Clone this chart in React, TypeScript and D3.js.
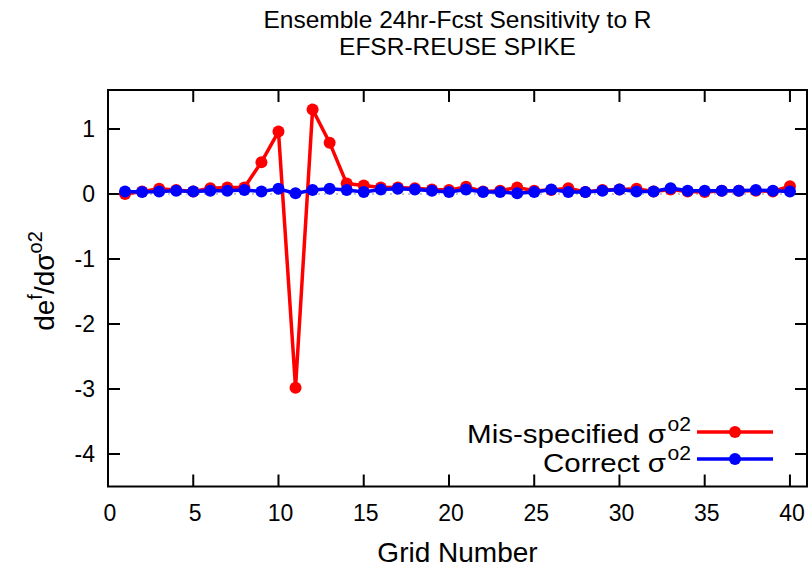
import React, { useEffect } from "react";
import * as d3 from "d3";

const gridNumbers: number[] = Array.from({ length: 40 }, (_, i) => i + 1);
const misSpecified: number[] = [0.00, 0.04, 0.08, 0.06, 0.04, 0.09, 0.10, 0.10, 0.49, 0.96, -2.98, 1.30, 0.79, 0.16, 0.13, 0.10, 0.10, 0.09, 0.07, 0.06, 0.11, 0.04, 0.05, 0.10, 0.05, 0.06, 0.09, 0.03, 0.06, 0.07, 0.08, 0.04, 0.07, 0.04, 0.03, 0.05, 0.05, 0.05, 0.04, 0.12];
const correct: number[] = [0.04, 0.03, 0.04, 0.05, 0.04, 0.05, 0.05, 0.06, 0.04, 0.08, 0.01, 0.06, 0.08, 0.06, 0.03, 0.07, 0.08, 0.07, 0.05, 0.03, 0.07, 0.03, 0.03, 0.01, 0.03, 0.07, 0.03, 0.03, 0.05, 0.07, 0.04, 0.04, 0.09, 0.05, 0.05, 0.05, 0.05, 0.06, 0.05, 0.04];
const xTicks: number[] = [0, 5, 10, 15, 20, 25, 30, 35, 40];
const yTicks: number[] = [1, 0, -1, -2, -3, -4];
const titleLines: string[] = ["Ensemble 24hr-Fcst Sensitivity to R", "EFSR-REUSE SPIKE"];
const legendLabels: string[] = ["Mis-specified σ", "Correct σ"];
const legendSup = "o2";

const W = 812, H = 572;
const L = 108, R = 807, T = 90, B = 486.5;
const FONT = "'Liberation Sans', Arial, Helvetica, sans-serif";

export default function App() {
  useEffect(() => { document.body.style.margin = "0"; }, []);
  const x = d3.scaleLinear().domain([0, 41]).range([L, R]);
  const y = d3.scaleLinear().domain([-4.5, 1.6]).range([B, T]);
  const line = d3.line<number>().x((_, i) => x(gridNumbers[i])).y((d) => y(d));
  const series = [
    { name: legendLabels[0], values: misSpecified, color: "#ff0000", len: 199 },
    { name: legendLabels[1], values: correct, color: "#0000ff", len: 123 },
  ];
  const tick = 12;
  return (
    <svg width={W} height={H} style={{ position: "absolute", left: 0, top: 0, background: "#fff" }} fontFamily={FONT}>
      <rect width={W} height={H} fill="#fff" />
      {titleLines.map((t, i) => (
        <text key={i} x={(L + R) / 2} y={28 + i * 27} textAnchor="middle" fontSize={24.5}>{t}</text>
      ))}
      <line x1={L} x2={R} y1={y(0)} y2={y(0)} stroke="#909090" strokeWidth={1} strokeDasharray="2,4" />
      {xTicks.map((t) => (
        <g key={"x" + t}>
          <line x1={x(t)} x2={x(t)} y1={B} y2={B - tick} stroke="#000" strokeWidth={2} />
          <line x1={x(t)} x2={x(t)} y1={T} y2={T + tick} stroke="#000" strokeWidth={2} />
          <text x={x(t) + 2} y={521} textAnchor="middle" fontSize={23}>{t}</text>
        </g>
      ))}
      {yTicks.map((t) => (
        <g key={"y" + t}>
          <line x1={L} x2={L + tick} y1={y(t)} y2={y(t)} stroke="#000" strokeWidth={2} />
          <line x1={R} x2={R - tick} y1={y(t)} y2={y(t)} stroke="#000" strokeWidth={2} />
          <text x={95} y={y(t) + 8} textAnchor="end" fontSize={23}>{t}</text>
        </g>
      ))}
      {series.map((s) => (
        <g key={s.name}>
          <path d={line(s.values) || ""} fill="none" stroke={s.color} strokeWidth={3.5} />
          {s.values.map((v, i) => (
            <circle key={i} cx={x(gridNumbers[i])} cy={y(v)} r={6} fill={s.color} />
          ))}
        </g>
      ))}
      <rect x={L} y={T} width={R - L} height={B - T} fill="none" stroke="#000" strokeWidth={2} />
      {series.map((s, i) => {
        const ly = 432 + i * 27;
        const base = 443 + i * 28.5;
        return (
          <g key={"lg" + s.name}>
            <text x={666 - s.len} y={base} fontSize={25} textLength={s.len} lengthAdjust="spacingAndGlyphs">{s.name}</text>
            <text x={667.5} y={base - 12} fontSize={20} textLength={23.5} lengthAdjust="spacingAndGlyphs">{legendSup}</text>
            <line x1={697} x2={773} y1={ly} y2={ly} stroke={s.color} strokeWidth={3.5} />
            <circle cx={735} cy={ly} r={6} fill={s.color} />
          </g>
        );
      })}
      <text x={(L + R) / 2} y={562} textAnchor="middle" fontSize={28}>Grid Number</text>
      <text transform={`translate(54,281) rotate(-90)`} textAnchor="middle" fontSize={28}>
        de<tspan dy={-12} fontSize={20}>f</tspan><tspan dy={12}>/dσ</tspan><tspan dy={-12} fontSize={20}>o2</tspan>
      </text>
    </svg>
  );
}
